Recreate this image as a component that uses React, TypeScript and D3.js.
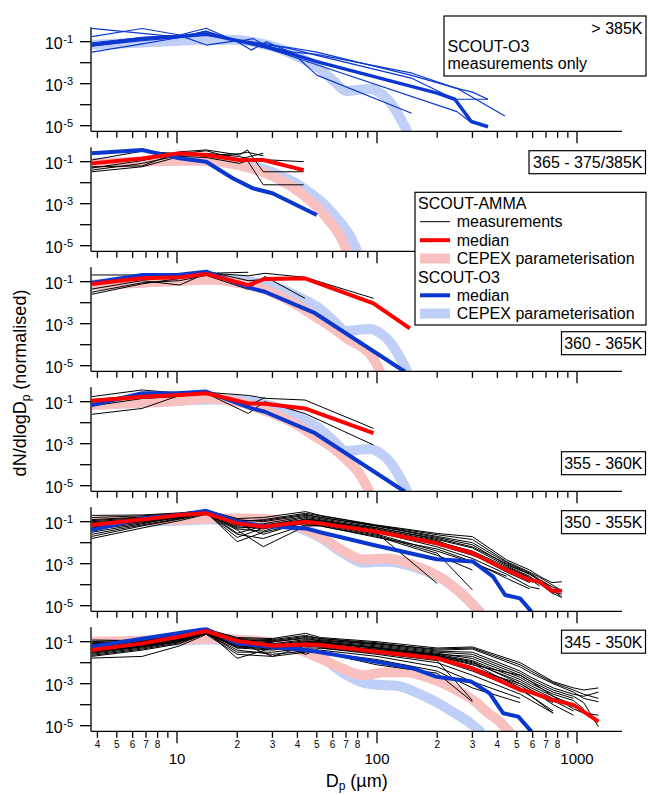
import React from "react";
import * as d3 from "d3";

// Values are log10(dN/dlogDp); diameters in µm.
type Pair = [number, number];

const X_DOMAIN: [number, number] = [3.715, 1679];
const Y_EXP_DOMAIN: [number, number] = [-5.27, -0.31];
const Y_TICK_EXPS = [-1, -2, -3, -4, -5];
const Y_LABEL_EXPS = [-1, -3, -5];
const PANEL_LABELS = ["> 385K", "365 - 375/385K", "360 - 365K", "355 - 360K", "350 - 355K", "345 - 350K"];

// ---------- Panel 1 (> 385K): SCOUT-O3 only ----------
const O3_385_MEDIAN: Pair[] = [[3.75, -1.16], [6.7, -0.85], [10.3, -0.75], [14, -0.62], [20, -0.95], [28, -1.25], [38, -1.6], [50, -1.95], [200, -3.45], [245, -3.74], [296, -4.8], [359, -5.05]];
const O3_385_MEAS: Pair[][] = [
  [[3.75, -1.5], [6.7, -1.1], [10.3, -0.8], [14, -0.5], [20, -0.95], [28, -1.15], [38, -1.3], [50, -1.5], [149, -2.6], [251, -3.22], [436, -4.54]],
  [[3.75, -0.76], [6.7, -0.37], [10.3, -0.68], [14, -0.36], [20, -1.0], [23.5, -1.4], [28, -1.0], [38, -1.55], [50, -2.59], [149, -4.41]],
  [[3.75, -1.2], [6.7, -0.95], [10.3, -0.8], [14, -0.7], [20, -0.9], [28, -1.1], [38, -1.35], [50, -1.65], [150, -2.75], [245, -3.74], [359, -3.74]],
  [[3.75, -1.05], [6.7, -0.8], [10.3, -0.7], [14, -1.16], [20, -0.95], [28, -1.3], [50, -2.1], [251, -4.33], [296, -4.85]],
  [[3.75, -0.37], [6.7, -0.6], [10.3, -0.78], [14, -0.5], [20, -1.0], [24, -0.85], [28, -1.2], [38, -1.5], [50, -1.6], [150, -2.5], [245, -3.2], [300, -3.4], [359, -3.74]],
];
const O3_CEPEX_UPPER: Pair[] = [[3.72, -1.15], [6.5, -1.05], [10.3, -0.95], [14.6, -0.9], [20, -0.92], [25, -1.05], [33, -1.35], [41, -1.75], [52, -2.3], [62, -2.95], [70, -3.35], [79, -3.3], [92, -3.25], [104, -3.45], [119, -4.0], [130, -4.6], [142, -5.3]];

// ---------- Panel 2 (365 - 375/385K) ----------
const P2_BINS = [3.75, 6.7, 10.3, 14, 20.5, 22.5, 27, 43];
const P2_AMMA_MEDIAN = [-1.08, -0.85, -0.6, -0.68, -0.92, -0.92, -0.92, -1.4];
const P2_AMMA_MEAS: (number | null)[][] = [
  [-1.24, -1.2, -0.53, -0.44, -0.68, -0.44, -1.48, -1.48],
  [-1.48, -1.24, -0.75, -0.8, -1.08, -0.95, -2.1, -2.1],
  [-1.4, -1.08, -0.7, -0.6, -0.75, -0.85, -0.9, -1.0],
  [-0.92, -0.5, -0.62, -0.48, -0.9, -0.78, -0.6, null],
  [-1.3, -0.95, -0.58, -0.7, -0.62, -0.55, -0.72, null],
];
const P2_O3_MEDIAN: Pair[] = [[3.75, -0.6], [6.7, -0.44], [10.3, -0.84], [14, -1.0], [19, -1.79], [24, -2.27], [30, -2.5], [50, -3.54]];
const P2_AMMA_CEPEX: Pair[] = [[3.75, -1.1], [6.7, -1.0], [10.3, -0.95], [14, -0.95], [20, -1.15], [26, -1.45], [34, -1.95], [43, -2.6], [50, -3.15], [58, -3.85], [65, -4.5], [71, -5.3]];
const P2_O3_CEPEX: Pair[] = [[3.75, -1.05], [6.7, -1.0], [10.3, -0.9], [15, -0.9], [22, -1.1], [29, -1.45], [38, -1.95], [48, -2.6], [56, -3.15], [65, -3.85], [73, -4.5], [80, -5.3]];

// ---------- Panels 3 & 4 (360 - 365K, 355 - 360K) ----------
const P34_BINS = [3.75, 6.7, 10.3, 14, 22.7, 27.5, 43.6, 96, 146];
const P3_AMMA_MEDIAN = [-1.11, -0.84, -0.79, -0.63, -1.16, -0.87, -0.84, -2.03, -3.22];
const P3_AMMA_MEAS: (number | null)[][] = [
  [-0.68, -0.68, -0.62, -0.58, -0.72, -0.6, -0.79, -1.79, null],
  [-1.5, -1.05, -0.95, -0.7, -1.36, -0.75, -1.79, null, null],
  [-1.35, -0.95, -1.16, -0.6, -0.55, null, null, null, null],
  [-1.6, -1.1, -0.85, -0.5, -0.95, -0.9, -0.9, null, null],
];
const P3_O3_MEDIAN: Pair[] = [[3.75, -1.05], [6.7, -0.68], [10, -0.68], [14, -0.52], [23.6, -1.32], [27.5, -1.48], [49, -2.5], [138, -5.29]];
const P3_AMMA_CEPEX: Pair[] = [[3.75, -1.15], [6.7, -1.05], [10.3, -0.95], [14, -0.9], [20, -1.05], [28, -1.4], [38, -2.0], [48, -2.6], [60, -3.2], [72, -3.75], [85, -4.15], [95, -4.6], [104, -5.3]];

const P4_AMMA_MEDIAN = [-0.95, -0.76, -0.68, -0.6, -1.08, -1.1, -1.32, -2.5, null];
const P4_AMMA_MEAS: (number | null)[][] = [
  [-0.76, -0.44, -0.6, -0.55, -0.7, -0.84, -0.92, -2.27, null],
  [-1.6, -1.32, -0.7, -0.6, -1.56, -1.0, -1.56, -3.06, null],
  [-0.9, -0.7, -0.62, -0.5, -1.2, -0.8, null, null, null],
  [-1.2, -0.85, -0.75, -0.55, -1.1, -1.05, null, null, null],
];
const P4_O3_MEDIAN: Pair[] = [[3.75, -1.16], [6.7, -0.6], [10, -0.6], [14, -0.52], [23.6, -1.32], [27.5, -1.48], [49, -2.5], [138, -5.29]];
const P4_AMMA_CEPEX: Pair[] = [[3.75, -1.15], [6.7, -1.05], [10.3, -0.95], [14, -0.85], [20, -1.0], [28, -1.45], [38, -2.0], [48, -2.6], [60, -3.2], [70, -3.75], [80, -4.3], [92, -5.3]];

// ---------- Panel 5 (350 - 355K) ----------
const P5_BINS = [3.75, 6.7, 10.3, 14, 20, 27, 44, 52, 100, 200, 300, 445, 580, 650, 750, 840];
const P5_AMMA_MEDIAN = [-1.16, -0.89, -0.68, -0.6, -1.08, -1.24, -1.0, -1.08, -1.48, -2.03, -2.5, -3.3, -3.78, -3.86, -4.29, -4.29];
const P5_AMMA_MEAS: (number | null)[][] = [
  [-0.8, -0.72, -0.6, -0.45, -0.85, -0.8, -0.52, -0.7, -1.16, -1.56, -1.71, -2.82, -3.3, -3.6, -3.9, -3.86],
  [-0.9, -0.78, -0.62, -0.5, -0.95, -0.95, -0.65, -0.8, -1.2, -1.7, -2.0, -2.95, -3.45, -3.75, -4.1, -4.3],
  [-1.0, -0.85, -0.68, -0.52, -1.2, -1.1, -0.75, -0.85, -1.28, -1.85, -2.25, -3.1, -3.6, -3.95, -4.4, -4.6],
  [-1.1, -0.9, -0.72, -0.58, -1.35, -1.45, -0.85, -0.95, -1.4, -2.0, -2.45, -3.25, -3.75, -4.05, null, null],
  [-1.2, -0.95, -0.7, -0.55, -1.55, -1.2, -0.8, -0.9, -1.35, -1.9, -2.55, -3.4, -3.9, null, null, null],
  [-1.3, -1.0, -0.78, -0.6, -1.75, -1.3, -0.95, -1.05, -1.5, -2.2, -2.75, -3.5, -4.1, -4.2, null, null],
  [-1.5, -1.1, -0.75, -0.55, -1.95, -1.5, -1.05, -1.1, -1.6, -2.4, -2.95, -3.6, null, null, null, null],
  [-1.7, -1.2, -0.88, -0.62, -1.4, -2.19, -1.2, -1.2, -1.7, -2.6, -3.3, null, null, null, null, null],
  [-1.8, -1.3, -0.95, -0.65, -1.1, -1.6, -1.0, -1.05, -1.45, -2.1, -2.6, -3.2, -3.7, -3.95, -4.2, null],
  [-0.7, -0.68, -0.58, -0.48, -1.0, -0.9, -0.6, -0.72, -1.18, -1.62, -1.85, -2.9, -3.4, -3.65, -4.0, -4.29],
  [-1.05, -0.88, -0.75, -0.6, -1.05, -1.15, -0.9, -1.0, -1.55, -3.94, null, null, null, null, null, null],
  [-1.15, -0.92, -0.8, -0.58, -1.25, -1.3, -1.1, -1.15, -1.65, -2.5, -4.25, null, null, null, null, null],
  [-0.95, -0.8, -0.65, -0.5, -0.9, -1.0, -0.7, -0.78, -1.22, -1.75, -2.1, -3.05, -3.5, -3.8, -4.2, -4.6],
  [-1.25, -1.0, -0.8, -0.6, -1.6, -1.8, -1.15, -1.2, -1.75, -2.3, -2.9, -3.7, -4.2, null, null, null],
  [-1.4, -1.05, -0.82, -0.55, -1.15, -1.35, -0.9, -0.95, -1.3, -1.8, -2.2, -3.0, -3.5, -3.8, -4.1, null],
  [-1.6, -1.15, -0.85, -0.6, -1.3, -1.25, -1.0, -1.0, -1.4, -1.95, -2.4, -3.15, -3.65, -3.9, -4.35, -4.45],
];
const P5_O3_MEDIAN: Pair[] = [[3.75, -1.4], [6.7, -0.84], [10.3, -0.68], [14, -0.48], [20, -1.0], [27, -1.2], [44, -1.32], [52, -1.5], [96, -2.11], [199, -2.79], [302, -2.9], [381, -3.62], [437, -4.49], [519, -4.65], [593, -5.29]];
const P5_AMMA_CEPEX: Pair[] = [[3.75, -1.0], [6.7, -0.95], [10.3, -0.9], [14, -0.85], [20, -0.85], [30, -0.9], [40, -1.2], [52, -1.7], [68, -2.4], [85, -2.8], [111, -2.75], [146, -3.0], [180, -3.35], [223, -3.85], [270, -4.5], [330, -5.35]];
const P5_O3_CEPEX: Pair[] = [[3.75, -1.05], [6.7, -1.0], [10.3, -0.95], [14, -0.9], [20, -0.9], [30, -0.95], [40, -1.25], [52, -1.75], [68, -2.5], [85, -2.95], [111, -2.9], [146, -3.1], [180, -3.4], [223, -3.85], [270, -4.5], [330, -5.35]];

// ---------- Panel 6 (345 - 350K) ----------
const P6_BINS = [3.75, 6.7, 10.3, 14, 20, 30, 44, 52, 100, 200, 300, 520, 590, 760, 960, 1080, 1280];
const P6_AMMA_MEDIAN = [-1.4, -1.08, -0.76, -0.49, -0.97, -1.19, -1.13, -1.16, -1.48, -1.79, -2.27, -3.3, -3.41, -3.78, -4.01, -4.33, -4.81];
const P6_AMMA_MEAS: (number | null)[][] = [
  [-1.0, -0.9, -0.7, -0.4, -0.8, -0.85, -0.6, -0.8, -1.0, -1.3, -1.25, -2.0, -2.3, -2.9, -3.2, -3.3, -3.2],
  [-1.1, -0.95, -0.75, -0.45, -0.85, -0.9, -0.7, -0.85, -1.05, -1.4, -1.35, -2.2, -2.5, -3.0, -3.4, -3.7, -3.86],
  [-1.2, -1.0, -0.8, -0.5, -0.9, -1.0, -0.8, -0.9, -1.15, -1.5, -1.6, -2.5, -2.8, -3.3, -3.6, -3.9, -5.05],
  [-1.3, -1.05, -0.85, -0.5, -1.0, -1.1, -0.9, -0.95, -1.2, -1.55, -1.8, -2.7, -3.0, -3.5, -3.8, -4.2, null],
  [-1.4, -1.1, -0.9, -0.55, -1.1, -1.2, -1.0, -1.0, -1.3, -1.65, -2.0, -2.9, -3.2, -3.7, -4.1, null, null],
  [-1.5, -1.2, -0.95, -0.55, -1.2, -1.3, -1.1, -1.1, -1.4, -1.75, -2.2, -3.1, -3.4, -3.9, null, null, null],
  [-1.6, -1.3, -1.0, -0.6, -1.3, -1.4, -1.2, -1.2, -1.5, -1.85, -2.4, -3.3, -3.6, -4.3, null, null, null],
  [-1.7, -1.4, -1.1, -0.6, -1.5, -1.5, -1.3, -1.3, -1.6, -2.0, -2.6, -3.5, -3.8, -4.4, null, null, null],
  [-1.78, -1.7, -1.2, -0.65, -1.6, -1.7, -1.5, -1.4, -1.7, -2.2, -2.9, -3.7, null, null, null, null, null],
  [-0.92, -0.95, -0.8, -0.45, -1.3, -1.0, -0.85, -0.95, -1.1, -1.35, -1.3, -2.1, -2.4, -2.95, -3.3, -3.5, -3.7],
  [-1.15, -1.0, -0.9, -0.5, -1.79, -1.3, -1.1, -1.05, -1.3, -1.6, -1.9, -2.8, -3.1, -3.6, -4.0, -4.3, null],
  [-1.25, -1.05, -0.85, -0.48, -1.0, -1.7, -1.2, -1.15, -1.35, -1.7, -2.1, -2.6, -2.9, -3.4, -3.7, null, null],
  [-1.35, -1.1, -0.8, -0.5, -0.95, -1.05, -1.6, -1.3, -1.55, -1.9, -3.8, null, null, null, null, null, null],
  [-1.45, -1.2, -0.9, -0.52, -1.15, -1.25, -1.4, -1.5, -2.1, -2.5, -3.86, null, null, null, null, null, null],
  [-1.05, -0.95, -0.75, -0.45, -0.9, -0.95, -0.75, -0.85, -1.1, -1.45, -1.5, -2.4, -2.7, -3.2, -3.5, -3.6, -3.4],
  [-1.55, -1.25, -1.0, -0.6, -1.25, -1.35, -1.2, -1.25, -1.5, -1.8, -2.3, -3.0, -3.3, -3.8, -4.3, null, null],
  [-1.65, -1.35, -1.05, -0.62, -1.4, -1.6, -1.45, -1.5, -1.85, -2.4, -3.2, -3.9, null, null, null, null, null],
  [-1.2, -1.0, -0.85, -0.5, -1.05, -1.15, -0.95, -1.0, -1.25, -1.6, -1.7, -2.6, -2.9, -3.6, -4.2, -4.4, -4.5],
  [-1.4, -1.15, -0.9, -0.55, -1.1, -1.25, -1.05, -1.05, -1.3, -1.65, -1.95, -3.0, -3.3, -4.0, -4.5, null, null],
  [-1.5, -1.25, -0.95, -0.58, -1.2, -1.3, -1.0, -1.1, -1.4, -1.7, -2.05, -3.2, -3.6, -4.4, null, null, null],
];
const P6_O3_MEDIAN: Pair[] = [[3.75, -1.24], [6.7, -0.86], [10.3, -0.59], [14, -0.4], [20, -1.08], [30, -1.25], [44, -1.4], [52, -1.5], [98, -1.95], [152, -2.27], [199, -2.67], [296, -2.9], [366, -3.46], [428, -4.41], [509, -4.57], [593, -5.29]];
const P6_AMMA_CEPEX: Pair[] = [[3.75, -1.0], [6.7, -0.95], [10.3, -0.9], [14, -0.85], [20, -0.9], [30, -1.05], [40, -1.35], [52, -1.8], [68, -2.3], [85, -2.6], [111, -2.45], [140, -2.45], [165, -2.6], [210, -2.95], [260, -3.4], [310, -3.85], [354, -4.35], [410, -4.8], [465, -5.35]];
const P6_O3_CEPEX: Pair[] = [[3.75, -1.05], [6.7, -1.0], [10.3, -0.95], [14, -0.9], [20, -0.95], [30, -1.05], [40, -1.3], [52, -1.7], [68, -2.5], [85, -2.95], [100, -3.05], [125, -3.1], [164, -3.5], [200, -3.9], [240, -4.35], [290, -4.85], [335, -5.35]];

// ---------- styling ----------
const C_RED = "#ff0000";
const C_BLUE = "#0a38cf";
const C_PINK = "#f9c0c0";
const C_LBLUE = "#bfcff7";
const FONT = "'Liberation Sans', Arial, Helvetica, sans-serif";

const LEFT = 91;
const RIGHT = 622;
const PANEL_STEP = 120;
const REF_Y0 = 41.7; // pixel of 1e-1 in the first panel
const PX_PER_DECADE = 21;

function binsToPairs(bins: number[], vals: (number | null)[]): Pair[] {
  const out: Pair[] = [];
  bins.forEach((d, i) => {
    const v = vals[i];
    if (v !== null && v !== undefined) out.push([d, v]);
  });
  return out;
}

type PanelDef = {
  meas: Pair[][];
  measColor: string;
  measWidth: number;
  ammaMedian?: Pair[];
  o3Median: Pair[];
  o3MedianWidth: number;
  ammaCepex?: Pair[];
  o3Cepex?: Pair[];
  label: string;
  labelBox: { x: number; w: number; dy: number };
};

const PANELS: PanelDef[] = [
  {
    meas: O3_385_MEAS, measColor: C_BLUE, measWidth: 1.2,
    o3Median: O3_385_MEDIAN, o3MedianWidth: 3.5, o3Cepex: O3_CEPEX_UPPER,
    label: PANEL_LABELS[0], labelBox: { x: 444, w: 202, dy: -25.7 },
  },
  {
    meas: P2_AMMA_MEAS.map((v) => binsToPairs(P2_BINS, v)), measColor: "#000", measWidth: 1,
    ammaMedian: binsToPairs(P2_BINS, P2_AMMA_MEDIAN), o3Median: P2_O3_MEDIAN, o3MedianWidth: 4,
    ammaCepex: P2_AMMA_CEPEX, o3Cepex: P2_O3_CEPEX,
    label: PANEL_LABELS[1], labelBox: { x: 529, w: 116.5, dy: -11 },
  },
  {
    meas: P3_AMMA_MEAS.map((v) => binsToPairs(P34_BINS, v)), measColor: "#000", measWidth: 1,
    ammaMedian: binsToPairs(P34_BINS, P3_AMMA_MEDIAN), o3Median: P3_O3_MEDIAN, o3MedianWidth: 4,
    ammaCepex: P3_AMMA_CEPEX, o3Cepex: O3_CEPEX_UPPER,
    label: PANEL_LABELS[2], labelBox: { x: 561.5, w: 84, dy: 50 },
  },
  {
    meas: P4_AMMA_MEAS.map((v) => binsToPairs(P34_BINS, v)), measColor: "#000", measWidth: 1,
    ammaMedian: binsToPairs(P34_BINS, P4_AMMA_MEDIAN), o3Median: P4_O3_MEDIAN, o3MedianWidth: 4,
    ammaCepex: P4_AMMA_CEPEX, o3Cepex: O3_CEPEX_UPPER,
    label: PANEL_LABELS[3], labelBox: { x: 561.5, w: 84, dy: 50 },
  },
  {
    meas: P5_AMMA_MEAS.map((v) => binsToPairs(P5_BINS, v)), measColor: "#000", measWidth: 1,
    ammaMedian: binsToPairs(P5_BINS, P5_AMMA_MEDIAN), o3Median: P5_O3_MEDIAN, o3MedianWidth: 4,
    ammaCepex: P5_AMMA_CEPEX, o3Cepex: P5_O3_CEPEX,
    label: PANEL_LABELS[4], labelBox: { x: 561.5, w: 84, dy: -11 },
  },
  {
    meas: P6_AMMA_MEAS.map((v) => binsToPairs(P6_BINS, v)), measColor: "#000", measWidth: 1,
    ammaMedian: binsToPairs(P6_BINS, P6_AMMA_MEDIAN), o3Median: P6_O3_MEDIAN, o3MedianWidth: 4,
    ammaCepex: P6_AMMA_CEPEX, o3Cepex: P6_O3_CEPEX,
    label: PANEL_LABELS[5], labelBox: { x: 561.5, w: 84, dy: -11.5 },
  },
];

const x = d3.scaleLog().domain(X_DOMAIN).range([LEFT, RIGHT]);
const X_TICKS = x.ticks().filter((t) => t >= X_DOMAIN[0] && t <= X_DOMAIN[1]);

function leadDigit(t: number) {
  return Math.round(t / Math.pow(10, Math.floor(Math.log10(t) + 1e-9)));
}

function Panel({ p, i }: { p: PanelDef; i: number }) {
  const y0 = REF_Y0 + PANEL_STEP * i;
  const top = y0 - PX_PER_DECADE * (Y_EXP_DOMAIN[1] - -1);
  const bottom = y0 + PX_PER_DECADE * (-1 - Y_EXP_DOMAIN[0]);
  const y = d3.scaleLog().domain([10 ** Y_EXP_DOMAIN[0], 10 ** Y_EXP_DOMAIN[1]]).range([bottom, top]);
  const line = d3.line<Pair>().x((d) => x(d[0])).y((d) => y(10 ** d[1]));
  const smooth = d3.line<Pair>().x((d) => x(d[0])).y((d) => y(10 ** d[1])).curve(d3.curveMonotoneX);
  const clipId = `clip-${i}`;
  const isBottom = i === PANELS.length - 1;
  const lb = p.labelBox;
  const boxTop = y0 + lb.dy;

  return (
    <g>
      <defs>
        <clipPath id={clipId}>
          <rect x={LEFT} y={top} width={RIGHT - LEFT + 20} height={bottom - top} />
        </clipPath>
      </defs>
      <g clipPath={`url(#${clipId})`} fill="none" strokeLinejoin="round">
        {p.o3Cepex && <path d={smooth(p.o3Cepex) || ""} stroke={C_LBLUE} strokeWidth={10} />}
        {p.ammaCepex && <path d={smooth(p.ammaCepex) || ""} stroke={C_PINK} strokeWidth={10} />}
        {p.meas.map((m, k) => (
          <path key={k} d={line(m) || ""} stroke={p.measColor} strokeWidth={p.measWidth} />
        ))}
        <path d={line(p.o3Median) || ""} stroke={C_BLUE} strokeWidth={p.o3MedianWidth} />
        {p.ammaMedian && <path d={line(p.ammaMedian) || ""} stroke={C_RED} strokeWidth={4} />}
      </g>
      {/* y axis */}
      <line x1={LEFT} x2={LEFT} y1={top} y2={bottom} stroke="#000" strokeWidth={1.3} />
      {Y_TICK_EXPS.map((e) => (
        <line key={e} x1={LEFT - 11} x2={LEFT} y1={y(10 ** e)} y2={y(10 ** e)} stroke="#000" strokeWidth={1.3} />
      ))}
      {Y_LABEL_EXPS.map((e) => (
        <g key={e} fontFamily={FONT}>
          <text x={62.7} y={y(10 ** e) + 7.6} fontSize={16} textAnchor="end">10</text>
          <text x={63.3} y={y(10 ** e) + 1} fontSize={11}>{`-${-e}`}</text>
        </g>
      ))}
      {/* x axis */}
      <line x1={LEFT} x2={RIGHT} y1={bottom} y2={bottom} stroke="#000" strokeWidth={1.3} />
      {X_TICKS.map((t) => {
        const major = leadDigit(t) === 1;
        return (
          <line key={t} x1={x(t)} x2={x(t)} y1={bottom} y2={bottom + (major ? 12 : 6.5)} stroke="#000" strokeWidth={1.3} />
        );
      })}
      {isBottom &&
        X_TICKS.map((t) => {
          const dg = leadDigit(t);
          if (dg === 1)
            return (
              <text key={t} x={x(t)} y={bottom + 32.7} fontSize={15} textAnchor="middle" fontFamily={FONT}>{t}</text>
            );
          if (dg === 9) return null;
          return (
            <text key={t} x={x(t)} y={bottom + 17} fontSize={10} textAnchor="middle" fontFamily={FONT}>{dg}</text>
          );
        })}
      {/* panel label */}
      {i === 0 ? (
        <g fontFamily={FONT} fontSize={16}>
          <rect x={lb.x} y={boxTop} width={lb.w} height={60} fill="#fff" stroke="#000" strokeWidth={1.2} />
          <text x={642.5} y={boxTop + 18} textAnchor="end">{p.label}</text>
          <text x={lb.x + 3.5} y={boxTop + 36.3}>SCOUT-O3</text>
          <text x={lb.x + 3.5} y={boxTop + 52.8}>measurements only</text>
        </g>
      ) : (
        <g fontFamily={FONT} fontSize={16}>
          <rect x={lb.x} y={boxTop} width={lb.w} height={23} fill="#fff" stroke="#000" strokeWidth={1.2} />
          <text x={lb.x + lb.w - 3} y={boxTop + 17.6} textAnchor="end">{p.label}</text>
        </g>
      )}
    </g>
  );
}

function Legend() {
  const lx = 415, ly = 192.3, sx1 = 420, sx2 = 450, tx = 456.7;
  const rows = [
    { kind: "title", text: "SCOUT-AMMA", base: 209 },
    { kind: "line", text: "measurements", base: 227.3, color: "#000", w: 1 },
    { kind: "line", text: "median", base: 245.8, color: C_RED, w: 4 },
    { kind: "line", text: "CEPEX parameterisation", base: 264.1, color: C_PINK, w: 10 },
    { kind: "title", text: "SCOUT-O3", base: 282.6 },
    { kind: "line", text: "median", base: 300.9, color: C_BLUE, w: 4 },
    { kind: "line", text: "CEPEX parameterisation", base: 319.2, color: C_LBLUE, w: 10 },
  ];
  return (
    <g fontFamily={FONT} fontSize={16}>
      <rect x={lx} y={ly} width={231} height={132.7} fill="#fff" stroke="#000" strokeWidth={1.2} />
      {rows.map((r, k) =>
        r.kind === "title" ? (
          <text key={k} x={418} y={r.base}>{r.text}</text>
        ) : (
          <g key={k}>
            <line x1={sx1} x2={sx2} y1={r.base - 5.6} y2={r.base - 5.6} stroke={r.color} strokeWidth={r.w} />
            <text x={tx} y={r.base}>{r.text}</text>
          </g>
        )
      )}
    </g>
  );
}

export default function App() {
  return (
    <svg width={648} height={795} style={{ position: "absolute", left: 0, top: 0, background: "#fff" }}>
      <rect width={648} height={795} fill="#fff" />
      {PANELS.map((p, i) => (
        <Panel key={i} p={p} i={i} />
      ))}
      <Legend />
      <text transform="translate(26,383) rotate(-90)" textAnchor="middle" fontFamily={FONT} fontSize={18}>
        dN/dlogD<tspan fontSize={12} dy={4}>p</tspan>
        <tspan dy={-4}> (normalised)</tspan>
      </text>
      <text x={356.7} y={786.5} textAnchor="middle" fontFamily={FONT} fontSize={18}>
        D<tspan fontSize={12} dy={3.5}>p</tspan>
        <tspan dy={-3.5}> (µm)</tspan>
      </text>
    </svg>
  );
}
